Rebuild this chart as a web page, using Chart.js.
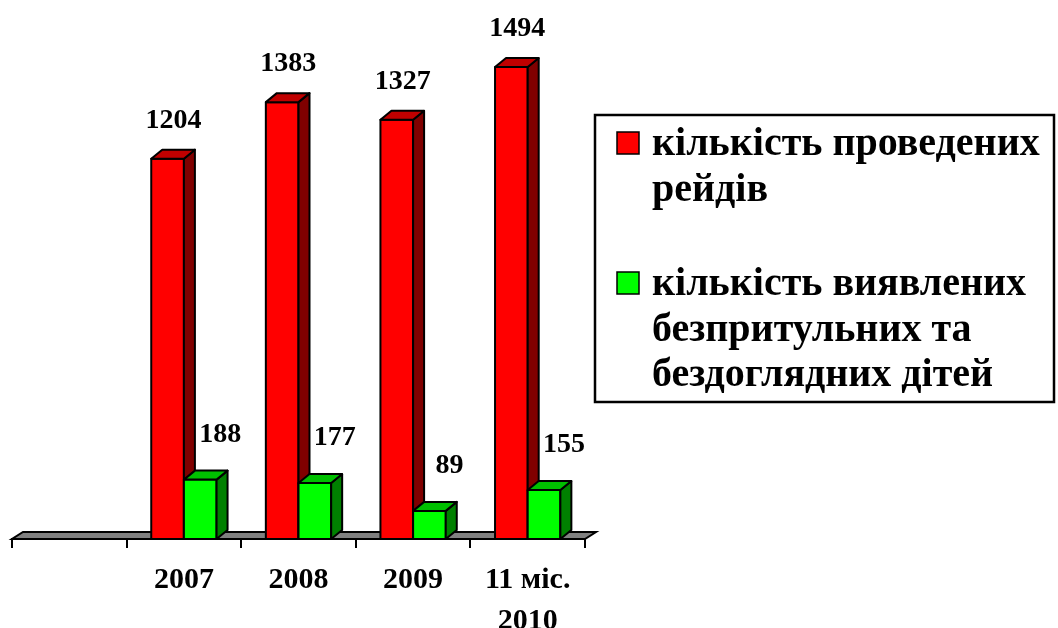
<!DOCTYPE html>
<html>
<head>
<meta charset="utf-8">
<script src="https://cdn.jsdelivr.net/npm/chart.js@4"></script>
<style>
  html, body { margin: 0; padding: 0; background: #fff; }
  #wrap { width: 1058px; height: 628px; }
</style>
</head>
<body>
<div id="wrap"><canvas id="chart" width="1058" height="628"></canvas></div>
<script>
// first category is empty in the original chart
const categories = ['', '2007', '2008', '2009', ['11 міс.', '2010']]
const raids = [null, 1204, 1383, 1327, 1494]
const children = [null, 188, 177, 89, 155]
const seriesNames = [
  ['кількість проведених', 'рейдів'],
  ['кількість виявлених', 'безпритульних та', 'бездоглядних дітей']
]

const FONT = '"Liberation Serif", "Times New Roman", serif'
const DX = 11
const DY = 9

const bars3d = {
  id: 'bars3d',
  beforeDatasetsDraw (chart) {
    // grey floor under the bars
    const { ctx, chartArea: a } = chart
    ctx.save()
    ctx.beginPath()
    ctx.moveTo(a.left, a.bottom)
    ctx.lineTo(a.right, a.bottom)
    ctx.lineTo(a.right + DX, a.bottom - DY + 2)
    ctx.lineTo(a.left + DX, a.bottom - DY + 2)
    ctx.closePath()
    ctx.fillStyle = '#808080'
    ctx.fill()
    ctx.lineWidth = 2
    ctx.strokeStyle = '#000'
    ctx.stroke()
    ctx.restore()
  },
  afterDatasetsDraw (chart) {
    const ctx = chart.ctx
    const n = chart.data.labels.length
    ctx.save()
    ctx.lineWidth = 2
    ctx.strokeStyle = '#000'
    ctx.lineJoin = 'round'
    for (let i = 0; i < n; i++) {
      chart.data.datasets.forEach((ds, d) => {
        const el = chart.getDatasetMeta(d).data[i]
        if (!el || ds.data[i] == null) return
        const { x, y, base, width } = el.getProps(['x', 'y', 'base', 'width'], true)
        const l = x - width / 2
        const r = x + width / 2
        // front
        ctx.fillStyle = ds.backgroundColor
        ctx.fillRect(l, y, width, base - y)
        ctx.strokeRect(l, y, width, base - y)
        // side
        ctx.beginPath()
        ctx.moveTo(r, y)
        ctx.lineTo(r + DX, y - DY)
        ctx.lineTo(r + DX, base - DY)
        ctx.lineTo(r, base)
        ctx.closePath()
        ctx.fillStyle = ds.sideColor
        ctx.fill()
        ctx.stroke()
        // top
        ctx.beginPath()
        ctx.moveTo(l, y)
        ctx.lineTo(r, y)
        ctx.lineTo(r + DX, y - DY)
        ctx.lineTo(l + DX, y - DY)
        ctx.closePath()
        ctx.fillStyle = ds.topColor
        ctx.fill()
        ctx.stroke()
        // value label
        ctx.fillStyle = '#000'
        ctx.font = 'bold 28px ' + FONT
        ctx.textAlign = 'center'
        ctx.textBaseline = 'alphabetic'
        ctx.fillText(String(ds.data[i]), x + ds.labelShift, y - ds.labelLift)
      })
    }
    ctx.restore()
  }
}

const boxLegend = {
  id: 'boxLegend',
  afterDraw (chart) {
    const ctx = chart.ctx
    ctx.save()
    ctx.lineWidth = 2.5
    ctx.strokeStyle = '#000'
    ctx.strokeRect(595, 115, 459, 287)
    ctx.font = 'bold 40px ' + FONT
    ctx.textAlign = 'left'
    ctx.textBaseline = 'alphabetic'
    let yb = 155
    chart.data.datasets.forEach((ds, d) => {
      ctx.fillStyle = ds.backgroundColor
      ctx.fillRect(617, yb - 23, 22, 22)
      ctx.lineWidth = 1.5
      ctx.strokeRect(617, yb - 23, 22, 22)
      ctx.fillStyle = '#000'
      seriesNames[d].forEach((line, k) => {
        ctx.fillText(line, 652, yb + k * 45.5)
      })
      yb += seriesNames[d].length * 45.5 + 49
    })
    ctx.restore()
  }
}

new Chart(document.getElementById('chart'), {
  type: 'bar',
  data: {
    labels: categories,
    datasets: [
      {
        label: seriesNames[0].join(' '),
        data: raids,
        backgroundColor: '#ff0000',
        sideColor: '#800000',
        topColor: '#c00000',
        labelShift: 6,
        labelLift: 31,
        borderWidth: 0
      },
      {
        label: seriesNames[1].join(' '),
        data: children,
        backgroundColor: '#00ff00',
        sideColor: '#008000',
        topColor: '#00c000',
        labelShift: 20,
        labelLift: 38,
        borderWidth: 0
      }
    ]
  },
  options: {
    responsive: false,
    animation: false,
    layout: { padding: { left: 12, right: 473, top: 2, bottom: 0 } },
    categoryPercentage: 0.57,
    barPercentage: 1,
    plugins: {
      legend: { display: false },
      tooltip: { enabled: false }
    },
    scales: {
      x: {
        afterFit (scale) { scale.height = 89 },
        grid: {
          drawOnChartArea: false,
          drawTicks: true,
          tickLength: 9,
          color: '#000',
          lineWidth: 2
        },
        border: { display: true, color: '#000', width: 2 },
        ticks: {
          color: '#000',
          padding: 12,
          font: { family: FONT, size: 30, weight: 'bold', lineHeight: 1.35 }
        }
      },
      y: {
        display: false,
        min: 0,
        max: 1700
      }
    }
  },
  plugins: [bars3d, boxLegend]
})
</script>
</body>
</html>
